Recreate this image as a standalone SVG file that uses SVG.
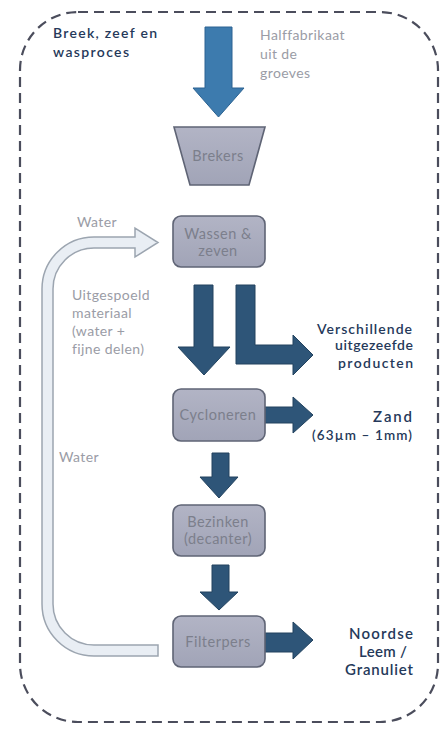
<svg xmlns="http://www.w3.org/2000/svg" width="440" height="733" viewBox="0 0 440 733">
<defs>
<linearGradient id="boxg" x1="0" y1="0" x2="0" y2="1">
<stop offset="0" stop-color="#b2b4c5"/>
<stop offset="1" stop-color="#a1a4b7"/>
</linearGradient>
</defs>
<style>
.frame{fill:none;stroke:#4b4d5c;stroke-width:2.2;stroke-dasharray:10 6}
.box{fill:url(#boxg);stroke:#5f6475;stroke-width:1.6}
.btxt{font-family:Lato,"Open Sans",sans-serif;font-size:14.5px;fill:#7c7f8c;text-anchor:middle;letter-spacing:0.5px}
.dark{fill:#2e5578;stroke:#23435f;stroke-width:1}
.blue{fill:#3d7bae;stroke:#2c6392;stroke-width:1}
.water{fill:#e9eef4;stroke:#9ca5b0;stroke-width:1.5}
.gtxt{font-family:Lato,"Open Sans",sans-serif;font-size:14px;fill:#9a9ca6;letter-spacing:0.4px}
.ntxt{font-family:Lato,"Open Sans",sans-serif;font-size:14px;font-weight:600;fill:#25395a}
.big{font-size:15px}
.sm{font-size:13.5px}
.rtxt{text-anchor:end}
</style>
<rect x="20" y="12" width="418" height="710" rx="58" ry="58" class="frame"/>
<g id="title">
<text class="ntxt" x="53" y="38" textLength="104" lengthAdjust="spacing">Breek, zeef en</text>
<text class="ntxt" x="53" y="57" textLength="76" lengthAdjust="spacing">wasproces</text>
</g>
<g id="input-label">
<text class="gtxt" x="260" y="40">Halffabrikaat</text>
<text class="gtxt" x="260" y="59">uit de</text>
<text class="gtxt" x="260" y="78">groeves</text>
</g>
<g id="connectors">
<path class="blue" d="M205,27 L232,27 L232,88 L244,88 L218.5,117 L193,88 L205,88 Z"/>
<path class="water" d="M158,645 L94,645 A41,41 0 0 1 53,604 L53,289 A41,41 0 0 1 94,248 L135,248 L135,257 L158,242.5 L135,228 L135,237 L94,237 A52,52 0 0 0 42,289 L42,604 A52,52 0 0 0 94,656 L158,656 Z"/>
<path class="dark" d="M194,285 L213,285 L213,347 L230,347 L204,375 L178,347 L194,347 Z"/>
<path class="dark" d="M236,285 L255,285 L255,345 L293,345 L293,335 L313,355 L293,375 L293,364 L236,364 Z"/>
<path class="dark" d="M265,407 L293,407 L293,397 L313,415 L293,433 L293,423 L265,423 Z"/>
<path class="dark" d="M212,453 L229,453 L229,477 L238,477 L219,498 L200,477 L212,477 Z"/>
<path class="dark" d="M212,565 L229,565 L229,592 L238,592 L219,610 L200,592 L212,592 Z"/>
<path class="dark" d="M265,633 L293,633 L293,622 L313,640 L293,659 L293,652 L265,652 Z"/>
</g>
<g id="brekers">
<polygon class="box" points="174,127 265,127 249,185 190,185"/>
<text class="btxt" x="218" y="161">Brekers</text>
</g>
<g id="wassen">
<rect class="box" x="173" y="216" width="92" height="51" rx="8"/>
<text class="btxt" x="218" y="239">Wassen &amp;</text>
<text class="btxt" x="218" y="256">zeven</text>
</g>
<g id="water-labels">
<text class="gtxt" x="77" y="227">Water</text>
<text class="gtxt" x="59" y="462">Water</text>
</g>
<g id="uitgespoeld-label">
<text class="gtxt" x="72" y="300">Uitgespoeld</text>
<text class="gtxt" x="72" y="318">materiaal</text>
<text class="gtxt" x="72" y="336">(water +</text>
<text class="gtxt" x="72" y="354">fijne delen)</text>
</g>
<g id="producten">
<text class="ntxt rtxt" x="412" y="334" textLength="95" lengthAdjust="spacing">Verschillende</text>
<text class="ntxt rtxt" x="413" y="350" textLength="78" lengthAdjust="spacing">uitgezeefde</text>
<text class="ntxt rtxt" x="413" y="368" textLength="75" lengthAdjust="spacing">producten</text>
</g>
<g id="cycloneren">
<rect class="box" x="173" y="389" width="92" height="52" rx="8"/>
<text class="btxt" x="218" y="420">Cycloneren</text>
</g>
<g id="zand">
<text class="ntxt big rtxt" x="412" y="422" textLength="39" lengthAdjust="spacing">Zand</text>
<text class="ntxt sm rtxt" x="412" y="440" textLength="100" lengthAdjust="spacing">(63µm – 1mm)</text>
</g>
<g id="bezinken">
<rect class="box" x="173" y="505" width="92" height="51" rx="8"/>
<text class="btxt" x="218" y="527">Bezinken</text>
<text class="btxt" x="218" y="544">(decanter)</text>
</g>
<g id="filterpers">
<rect class="box" x="173" y="616" width="92" height="51" rx="8"/>
<text class="btxt" x="218" y="647">Filterpers</text>
</g>
<g id="leem">
<text class="ntxt big rtxt" x="413" y="639" textLength="64" lengthAdjust="spacing">Noordse</text>
<text class="ntxt big rtxt" x="407" y="657" textLength="48" lengthAdjust="spacing">Leem /</text>
<text class="ntxt big rtxt" x="413" y="675" textLength="68" lengthAdjust="spacing">Granuliet</text>
</g>
</svg>
